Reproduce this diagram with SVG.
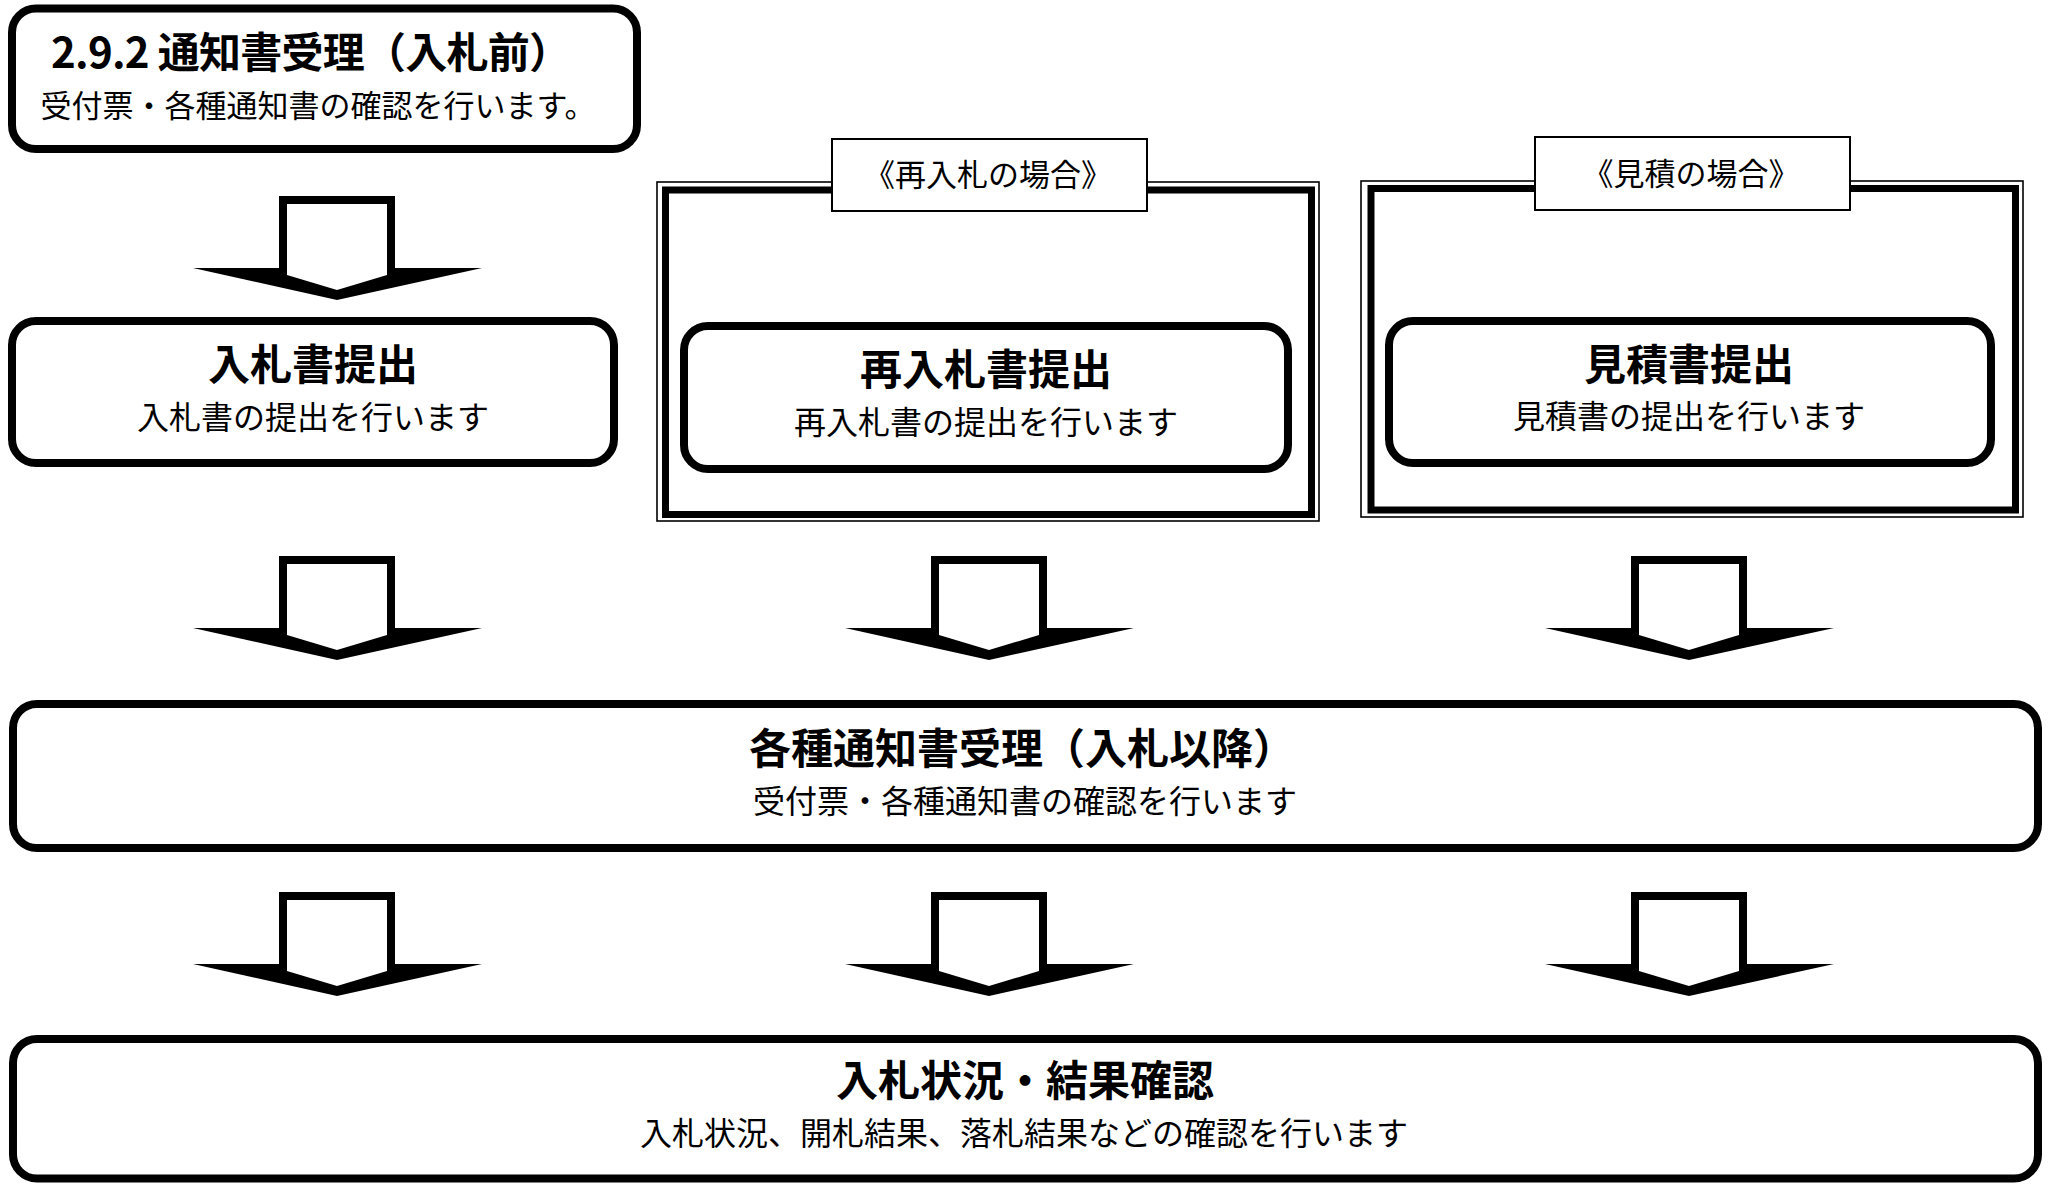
<svg xmlns="http://www.w3.org/2000/svg" xmlns:xlink="http://www.w3.org/1999/xlink" width="2055" height="1185" viewBox="0 0 2055 1185">
<style>
.box{fill:#fff;stroke:#000;stroke-width:8}
.thin{fill:none;stroke:#000;stroke-width:1.6}
.thick{fill:#fff;stroke:#000;stroke-width:7}
.lab{fill:#fff;stroke:#000;stroke-width:2}
.ao{fill:#000}
.ai{fill:#fff}
text{font-family:"Noto Sans CJK JP","Noto Sans CJK SC",sans-serif;fill:#000;text-anchor:middle}
.tt{font-size:42px;font-weight:bold}
.st{font-size:32px}
.lt{font-size:31px}
</style>
<defs>
<g id="arr">
<polygon class="ao" points="-58,0 58,0 58,72 145,72 0,104 -144,72 -58,72"/>
<polygon class="ai" points="-50,8 50,8 50,79 0,94 -50,79"/>
</g>
</defs>
<rect width="2055" height="1185" fill="#fff"/>

<g id="connectors">
<use xlink:href="#arr" transform="translate(337,196)"/>
<use xlink:href="#arr" transform="translate(337,556)"/>
<use xlink:href="#arr" transform="translate(989,556)"/>
<use xlink:href="#arr" transform="translate(1689,556)"/>
<use xlink:href="#arr" transform="translate(337,892)"/>
<use xlink:href="#arr" transform="translate(989,892)"/>
<use xlink:href="#arr" transform="translate(1689,892)"/>
</g>

<g id="node-header">
<rect class="box" x="12" y="8.5" width="625" height="140.5" rx="24"/>
<text class="tt" x="311" y="68" textLength="520">2.9.2 通知書受理（入札前）</text>
<text class="st" x="318" y="117" style="font-size:31px">受付票・各種通知書の確認を行います。</text>
</g>

<g id="node-nyusatsu">
<rect class="box" x="12" y="321" width="602" height="142" rx="24"/>
<text class="tt" x="313" y="380">入札書提出</text>
<text class="st" x="313" y="429">入札書の提出を行います</text>
</g>

<g id="frame-sainyusatsu">
<rect class="thin" x="657" y="182" width="662" height="339"/>
<rect class="thick" x="665.5" y="190" width="646" height="324.5"/>
<rect class="lab" x="832" y="139" width="315" height="72"/>
<text class="lt" x="988" y="186">《再入札の場合》</text>
</g>

<g id="node-sainyusatsu">
<rect class="box" x="684" y="326" width="604" height="143" rx="24"/>
<text class="tt" x="986" y="385">再入札書提出</text>
<text class="st" x="986" y="434">再入札書の提出を行います</text>
</g>

<g id="frame-mitsumori">
<rect class="thin" x="1361" y="181" width="662" height="336"/>
<rect class="thick" x="1371" y="188.5" width="644.5" height="321.5"/>
<rect class="lab" x="1535" y="137" width="315" height="73"/>
<text class="lt" x="1691" y="185">《見積の場合》</text>
</g>

<g id="node-mitsumori">
<rect class="box" x="1389" y="321" width="602" height="142" rx="24"/>
<text class="tt" x="1689" y="380">見積書提出</text>
<text class="st" x="1689" y="428">見積書の提出を行います</text>
</g>

<g id="node-tsuchi">
<rect class="box" x="13" y="704" width="2025" height="144" rx="24"/>
<text class="tt" x="1022" y="764">各種通知書受理（入札以降）</text>
<text class="st" x="1025" y="813">受付票・各種通知書の確認を行います</text>
</g>

<g id="node-kekka">
<rect class="box" x="13" y="1039" width="2025" height="139.5" rx="24"/>
<text class="tt" x="1025" y="1096">入札状況・結果確認</text>
<text class="st" x="1024" y="1145">入札状況、開札結果、落札結果などの確認を行います</text>
</g>
</svg>
